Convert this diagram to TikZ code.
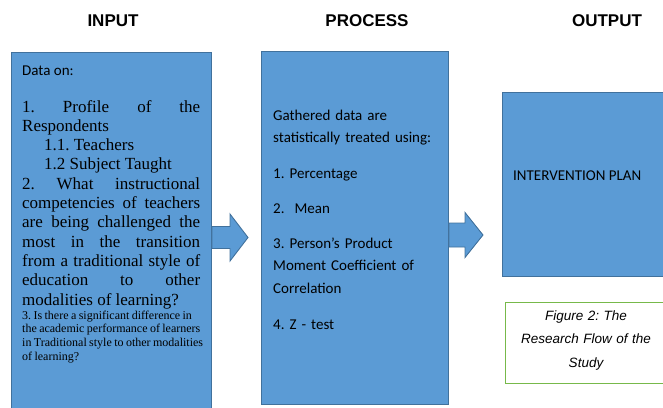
\documentclass[tikz,border=0pt]{standalone}
\usepackage{fontspec}
\setmainfont{Liberation Serif}
\newfontfamily\calibf{Carlito}
\newfontfamily\arialf{Liberation Sans}
\usetikzlibrary{calc}
\definecolor{boxblue}{HTML}{5B9BD5}
\definecolor{boxedge}{HTML}{41719C}
\definecolor{capgreen}{HTML}{77B94A}
\tikzset{
  blockbox/.style={draw=boxedge, fill=boxblue, line width=0.9pt, inner sep=0pt, anchor=north west},
  capbox/.style={draw=capgreen, fill=white, line width=1pt, inner sep=0pt, anchor=north west},
  header/.style={font=\arialf\bfseries\fontsize{17}{17}\selectfont, inner sep=0pt},
  txt/.style={inner sep=0pt, anchor=base west},
  ptxt/.style={inner sep=0pt, anchor=base west, text width=172pt, align=left,
     font=\calibf\fontsize{15}{22.8}\selectfont},
  arrowbox/.style={draw=boxedge, fill=boxblue, line width=0.9pt, line join=miter}
}
\newcommand\blockarrow[5]{%
  \draw[arrowbox] let \p1=(#1), \p2=(#2) in
    (\x1,\y1+#3) -- (\x2-#5,\y1+#3) -- (\x2-#5,\y1+#4) -- (\x2,\y1)
    -- (\x2-#5,\y1-#4) -- (\x2-#5,\y1-#3) -- (\x1,\y1-#3) -- cycle;}
\begin{document}
\frenchspacing
\begin{tikzpicture}[x=1pt,y=-1pt]
\useasboundingbox (0,0) rectangle (663,407);
\clip (0,0) rectangle (663,407);
% headers
\node[header] (hin) at (113,21) {INPUT};
\node[header] (hpro) at (367,21) {PROCESS};
\node[header] (hout) at (607,21) {OUTPUT};
% boxes
\node[blockbox, minimum width=200pt, minimum height=371pt] (inbox) at (11,52) {};
\node[blockbox, minimum width=187pt, minimum height=353pt] (probox) at (261,51) {};
\node[blockbox, minimum width=170pt, minimum height=184pt] (outbox) at (502,92) {};
\node[capbox, minimum width=165pt, minimum height=81pt] (capbox) at (505,302) {};
% input text
\node[txt, font=\calibf\fontsize{15}{15}\selectfont] (dataon) at (22,75) {Data on:};
\node[txt, font=\fontsize{17}{19.3}\selectfont] (intext) at (22,112) {%
\parbox[t]{178pt}{\frenchspacing\parindent=0pt
1. \hfill Profile \hfill of \hfill the\\
Respondents\\
\hspace*{22pt}1.1. Teachers\\
\hspace*{22pt}1.2 Subject Taught\\
2. \hfill What \hfill instructional\\
competencies \hfill of \hfill teachers\\
are \hfill being \hfill challenged \hfill the\\
most \hfill in \hfill the \hfill transition\\
from \hfill a \hfill traditional \hfill style \hfill of\\
education \hfill to \hfill other\\
modalities of learning?}};
\node[txt, font=\fontsize{12}{13.7}\selectfont] (intext3) at (22,319) {%
\parbox[t]{188pt}{\frenchspacing\parindent=0pt\spaceskip=0.2em plus 0.1em minus 0.05em
3. Is there a significant difference in\\
the academic performance of learners\\
in Traditional style to other modalities\\
of learning?}};
% process text
\node[ptxt] (pro1) at (273,120) {Gathered data are\\statistically treated using:};
\node[ptxt] (pro2) at (273,178) {1. Percentage};
\node[ptxt] (pro3) at (273,213) {2.\ \ Mean};
\node[ptxt] (pro4) at (273,248) {3. Person’s Product\\Moment Coefficient of\\Correlation};
\node[ptxt] (pro5) at (273,329) {4. Z - test};
% output text
\node[txt, font=\calibf\fontsize{15}{15}\selectfont] (outtext) at (513,180) {INTERVENTION PLAN};
% caption
\node[inner sep=0pt, anchor=base, text width=160pt, align=center,
      font=\arialf\itshape\fontsize{13.5}{23.6}\selectfont] (captext) at (586,320)
  {Figure 2: The\\ Research Flow of the\\ Study};
% arrows
\coordinate (a1s) at (inbox.east |- 0,237.5);
\coordinate (a1t) at ($(probox.west |- 0,237.5)+(-13,0)$);
\blockarrow{a1s}{a1t}{11pt}{23.5pt}{18pt}
\coordinate (a2s) at (probox.east |- 0,235);
\coordinate (a2t) at ($(outbox.west |- 0,235)+(-19,0)$);
\blockarrow{a2s}{a2t}{12pt}{22.5pt}{18pt}
\end{tikzpicture}
\end{document}
